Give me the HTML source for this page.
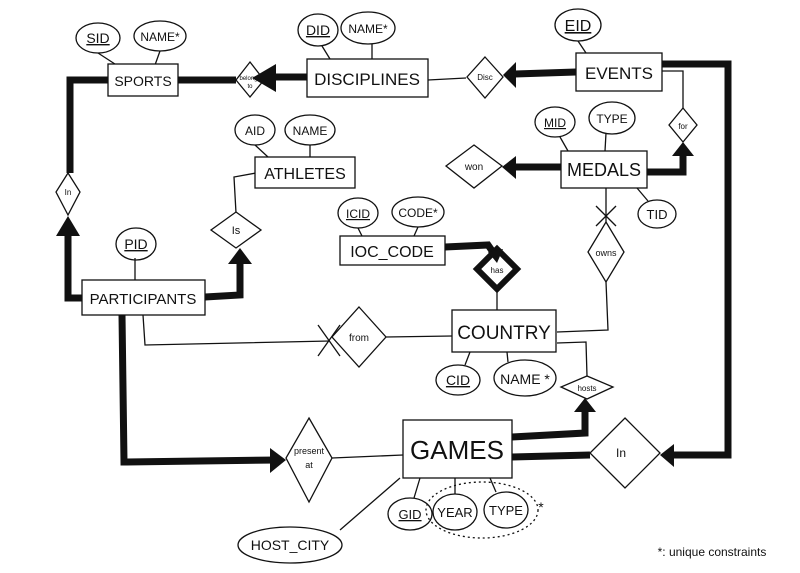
<!DOCTYPE html>
<html><head><meta charset="utf-8"><style>
html,body{margin:0;padding:0;background:#fff;}
svg{display:block;}
text{font-family:"Liberation Sans",sans-serif;fill:#111;}
</style></head><body>
<svg width="800" height="573" viewBox="0 0 800 573" xmlns="http://www.w3.org/2000/svg">
<!-- thick lines -->
<g stroke="#111" fill="none" stroke-width="7">
<polyline points="307,77 275,77"/>
<polyline points="236,80 178,80"/>
<polyline points="108,80 70,80 70,173"/>
<polyline points="576,72 515,74"/>
<polyline points="82,298 68,298 68,232"/>
<polyline points="205,297 240,295 240,264"/>
<polyline points="561,167 512,167"/>
<polyline points="647,172 683,172 683,156"/>
<polyline points="662,64 728,64 728,455 672,455"/>
<polyline points="590,455 512,457"/>
<polyline points="512,437 585,433 585,410"/>
<polyline points="445,247 488,245 495,255"/>
<polyline points="122,315 124,462 278,460"/>
</g>
<g stroke="#111" fill="none" stroke-width="1.3">
<line x1="98" y1="53" x2="118" y2="66"/><line x1="160" y1="51" x2="155" y2="65"/>
<line x1="322" y1="46" x2="330" y2="59"/><line x1="372" y1="44" x2="372" y2="59"/>
<line x1="578" y1="41" x2="586" y2="53"/>
<line x1="428" y1="80" x2="466" y2="78"/>
<line x1="255" y1="145" x2="268" y2="157"/><line x1="310" y1="145" x2="310" y2="157"/>
<line x1="560" y1="137" x2="568" y2="151"/><line x1="606" y1="133" x2="605" y2="151"/>
<line x1="637" y1="188" x2="648" y2="201"/>
<polyline points="662,71 683,71 683,108"/>
<polyline points="256,173 234,177 236,213"/>
<line x1="135" y1="258" x2="135" y2="280"/>
<line x1="358" y1="228" x2="362" y2="236"/><line x1="418" y1="227" x2="414" y2="236"/>
<polyline points="606,188 606,222"/>
<line x1="596" y1="206" x2="616" y2="226"/><line x1="616" y1="206" x2="596" y2="226"/>
<polyline points="606,282 608,330 557,332"/>
<polyline points="143,315 145,345 330,341"/>
<line x1="318" y1="325" x2="340" y2="356"/>
<line x1="340" y1="325" x2="318" y2="356"/>
<polyline points="386,337 452,336"/>
<line x1="497" y1="288" x2="497" y2="310"/>
<line x1="470" y1="352" x2="465" y2="365"/><line x1="507" y1="352" x2="508" y2="362"/>
<polyline points="557,343 586,342 587,376"/>
<line x1="332" y1="458" x2="403" y2="455"/>
<line x1="420" y1="478" x2="414" y2="498"/><line x1="455" y1="478" x2="455" y2="494"/><line x1="490" y1="478" x2="496" y2="492"/>
<line x1="340" y1="530" x2="400" y2="478"/>
<g fill="#fff">
<rect x="108" y="64" width="70" height="32"/>
<rect x="307" y="59" width="121" height="38"/>
<rect x="576" y="53" width="86" height="38"/>
<rect x="255" y="157" width="100" height="31"/>
<rect x="561" y="151" width="86" height="37"/>
<rect x="82" y="280" width="123" height="35"/>
<rect x="340" y="236" width="105" height="29"/>
<rect x="452" y="310" width="104" height="42"/>
<rect x="403" y="420" width="109" height="58"/>
</g>
<ellipse cx="98" cy="38" rx="22" ry="15"/><ellipse cx="160" cy="36" rx="26" ry="15"/>
<ellipse cx="318" cy="30" rx="20" ry="16"/><ellipse cx="368" cy="28" rx="27" ry="16"/>
<ellipse cx="578" cy="25" rx="23" ry="16"/>
<ellipse cx="255" cy="130" rx="20" ry="15"/><ellipse cx="310" cy="130" rx="25" ry="15"/>
<ellipse cx="555" cy="122" rx="20" ry="15"/><ellipse cx="612" cy="118" rx="23" ry="16"/>
<ellipse cx="657" cy="214" rx="19" ry="14"/>
<ellipse cx="136" cy="244" rx="20" ry="16"/>
<ellipse cx="358" cy="213" rx="20" ry="15"/><ellipse cx="418" cy="212" rx="26" ry="15"/>
<ellipse cx="458" cy="380" rx="22" ry="15"/><ellipse cx="525" cy="378" rx="31" ry="18"/>
<ellipse cx="410" cy="514" rx="22" ry="16"/><ellipse cx="455" cy="512" rx="22" ry="18"/><ellipse cx="506" cy="510" rx="22" ry="18"/>
<ellipse cx="482" cy="510" rx="56" ry="28" stroke-dasharray="2,3"/>
<ellipse cx="290" cy="545" rx="52" ry="18"/>
<polygon points="250,62 264,80 250,97 236,80" fill="#fff"/>
<polygon points="485,57 503,77 485,98 467,77" fill="#fff"/>
<polygon points="68,173 80,192 68,215 56,192" fill="#fff"/>
<polygon points="236,212 261,230 236,248 211,230" fill="#fff"/>
<polygon points="474,145 502,166 474,188 446,166" fill="#fff"/>
<polygon points="683,108 697,125 683,142 669,125" fill="#fff"/>
<polygon points="606,222 624,252 606,282 588,252" fill="#fff"/>
<polygon points="359,307 386,337 359,367 332,337" fill="#fff"/>
<polygon points="587,376 613,387 587,399 561,387" fill="#fff"/>
<polygon points="309,418 332,458 309,502 286,458" fill="#fff"/>
<polygon points="625,418 660,453 625,488 590,453" fill="#fff"/>
<polygon points="497,249 517,269 497,289 477,269" fill="#fff" stroke-width="6"/>
</g>
<g fill="#111">
<polygon points="252,78 276,64 276,92"/>
<polygon points="503,75 516,62 516,88"/>
<polygon points="68,216 56,236 80,236"/>
<polygon points="240,248 228,264 252,264"/>
<polygon points="502,167 516,156 516,179"/>
<polygon points="683,142 672,156 694,156"/>
<polygon points="660,455 674,444 674,467"/>
<polygon points="585,398 574,412 596,412"/>
<polygon points="286,460 270,448 270,473"/>
<polygon points="497,263 488,252 503,249"/>
</g>
<g font-size="14" text-anchor="middle">
<text x="143" y="86">SPORTS</text>
<text x="367" y="85" font-size="17">DISCIPLINES</text>
<text x="619" y="79" font-size="17">EVENTS</text>
<text x="305" y="179" font-size="16">ATHLETES</text>
<text x="604" y="176" font-size="18">MEDALS</text>
<text x="143" y="304" font-size="15">PARTICIPANTS</text>
<text x="392" y="257" font-size="16">IOC_CODE</text>
<text x="504" y="339" font-size="19">COUNTRY</text>
<text x="457" y="459" font-size="26">GAMES</text>
<text x="98" y="43" text-decoration="underline">SID</text>
<text x="160" y="41" font-size="12">NAME*</text>
<text x="318" y="35" text-decoration="underline">DID</text>
<text x="368" y="33" font-size="12">NAME*</text>
<text x="578" y="31" font-size="16" text-decoration="underline">EID</text>
<text x="255" y="135" font-size="12">AID</text>
<text x="310" y="135" font-size="12">NAME</text>
<text x="555" y="127" font-size="12" text-decoration="underline">MID</text>
<text x="612" y="123" font-size="12">TYPE</text>
<text x="657" y="219" font-size="13">TID</text>
<text x="136" y="249" text-decoration="underline">PID</text>
<text x="358" y="218" font-size="12" text-decoration="underline">ICID</text>
<text x="418" y="217" font-size="12">CODE*</text>
<text x="458" y="385" text-decoration="underline">CID</text>
<text x="525" y="384" font-size="14">NAME *</text>
<text x="410" y="519" font-size="13" text-decoration="underline">GID</text>
<text x="455" y="517" font-size="13">YEAR</text>
<text x="506" y="515" font-size="13">TYPE</text>
<text x="290" y="550" font-size="14">HOST_CITY</text>
<text x="541" y="512">*</text>
<text x="250" y="80" font-size="6">belongs</text><text x="250" y="88" font-size="6">to</text>
<text x="485" y="80" font-size="8">Disc</text>
<text x="68" y="195" font-size="8">In</text>
<text x="236" y="234" font-size="11">Is</text>
<text x="474" y="170" font-size="10">won</text>
<text x="683" y="129" font-size="8">for</text>
<text x="606" y="256" font-size="9">owns</text>
<text x="359" y="341" font-size="10">from</text>
<text x="587" y="391" font-size="8">hosts</text>
<text x="309" y="454" font-size="9">present</text><text x="309" y="468" font-size="9">at</text>
<text x="621" y="457" font-size="12">In</text>
<text x="497" y="273" font-size="8">has</text>
<text x="712" y="556" font-size="12">*: unique constraints</text>
</g>
</svg>
</body></html>
